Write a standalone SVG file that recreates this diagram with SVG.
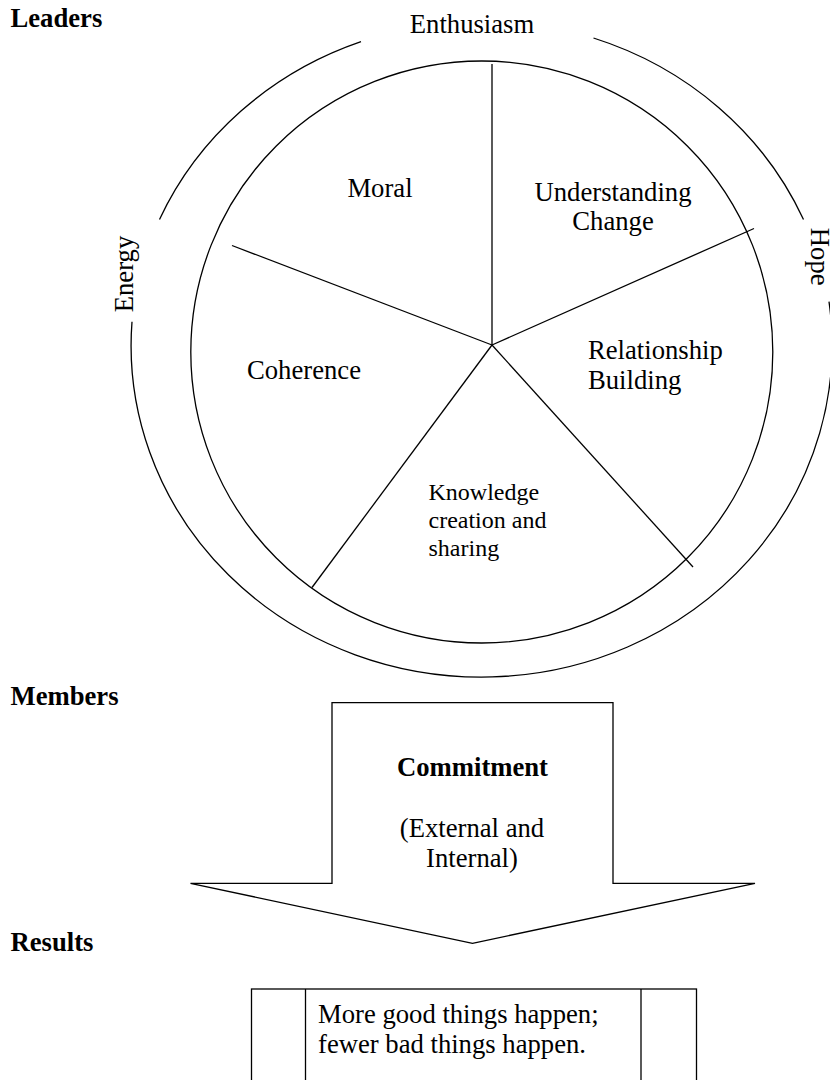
<svg xmlns="http://www.w3.org/2000/svg" width="830" height="1080" viewBox="0 0 830 1080">
  <style>
    .ln { fill: none; stroke: #000; stroke-width: 1.3; }
    .shape { fill: #fff; stroke: #000; stroke-width: 1.3; }
    text { font-family: 'Liberation Serif', 'DejaVu Serif', serif; fill: #000; }
    .t { font-size: 26.67px; }
    .ts { font-size: 24px; }
    .b { font-weight: bold; }
    .mid { text-anchor: middle; }
  </style>
  <rect width="830" height="1080" fill="#fff"/>

  <!-- section headings -->
  <g id="headings" font-family="Liberation Serif, serif">
    <text class="t b" x="10.5" y="26.7">Leaders</text>
    <text class="t b" x="10.5" y="705">Members</text>
    <text class="t b" x="10.5" y="950.7">Results</text>
  </g>

  <!-- outer ring, broken where its three words sit -->
  <g id="ring">
    <path class="ln" d="M 361 41.7 A 350.5 331.5 0 0 0 159.5 219.5"/>
    <path class="ln" d="M 132 321.7 A 350.5 331.5 0 1 0 829 301.7"/>
    <path class="ln" d="M 593.5 38 A 350.5 331.5 0 0 1 803.5 219.5"/>
    <text class="t mid" x="472" y="32.7">Enthusiasm</text>
    <text class="t mid" transform="translate(132.5 274) rotate(-90)">Energy</text>
    <text class="t mid" transform="translate(811 256.7) rotate(90)">Hope</text>
  </g>

  <!-- inner wheel -->
  <g id="wheel">
    <circle class="ln" cx="481.8" cy="352" r="291"/>
  </g>

  <!-- dividing spokes of the wheel -->
  <g id="connectors">
    <line class="ln" x1="492" y1="345" x2="492" y2="64"/>
    <line class="ln" x1="492" y1="345" x2="232" y2="245.5"/>
    <line class="ln" x1="492" y1="345" x2="754" y2="228.5"/>
    <line class="ln" x1="492" y1="345" x2="693" y2="567"/>
    <line class="ln" x1="492" y1="345" x2="312" y2="587.5"/>
  </g>

  <g id="sector-moral">
    <text class="t mid" x="380" y="197">Moral</text>
  </g>
  <g id="sector-understanding-change">
    <text class="t mid" x="613" y="200.7">Understanding</text>
    <text class="t mid" x="613" y="230">Change</text>
  </g>
  <g id="sector-relationship-building">
    <text class="t" x="588" y="359">Relationship</text>
    <text class="t" x="588" y="389">Building</text>
  </g>
  <g id="sector-knowledge">
    <text class="ts" x="428.5" y="500">Knowledge</text>
    <text class="ts" x="428.5" y="527.7">creation and</text>
    <text class="ts" x="428.5" y="555.7">sharing</text>
  </g>
  <g id="sector-coherence">
    <text class="t" x="247" y="379">Coherence</text>
  </g>

  <!-- downward block arrow -->
  <g id="commitment">
    <polygon class="shape" points="332,702.7 613,702.7 613,883.3 755,883.3 472.5,943.3 190.5,883.3 332,883.3"/>
    <text class="t b mid" x="472.5" y="776">Commitment</text>
    <text class="t mid" x="472" y="836.7">(External and</text>
    <text class="t mid" x="472" y="867.3">Internal)</text>
  </g>

  <!-- results box with side bands -->
  <g id="results">
    <rect class="shape" x="251.5" y="989" width="445" height="120"/>
    <line class="ln" x1="305.5" y1="989" x2="305.5" y2="1090"/>
    <line class="ln" x1="641" y1="989" x2="641" y2="1090"/>
    <text class="t" x="318" y="1022.7">More good things happen;</text>
    <text class="t" x="318" y="1053.3">fewer bad things happen.</text>
  </g>
</svg>
